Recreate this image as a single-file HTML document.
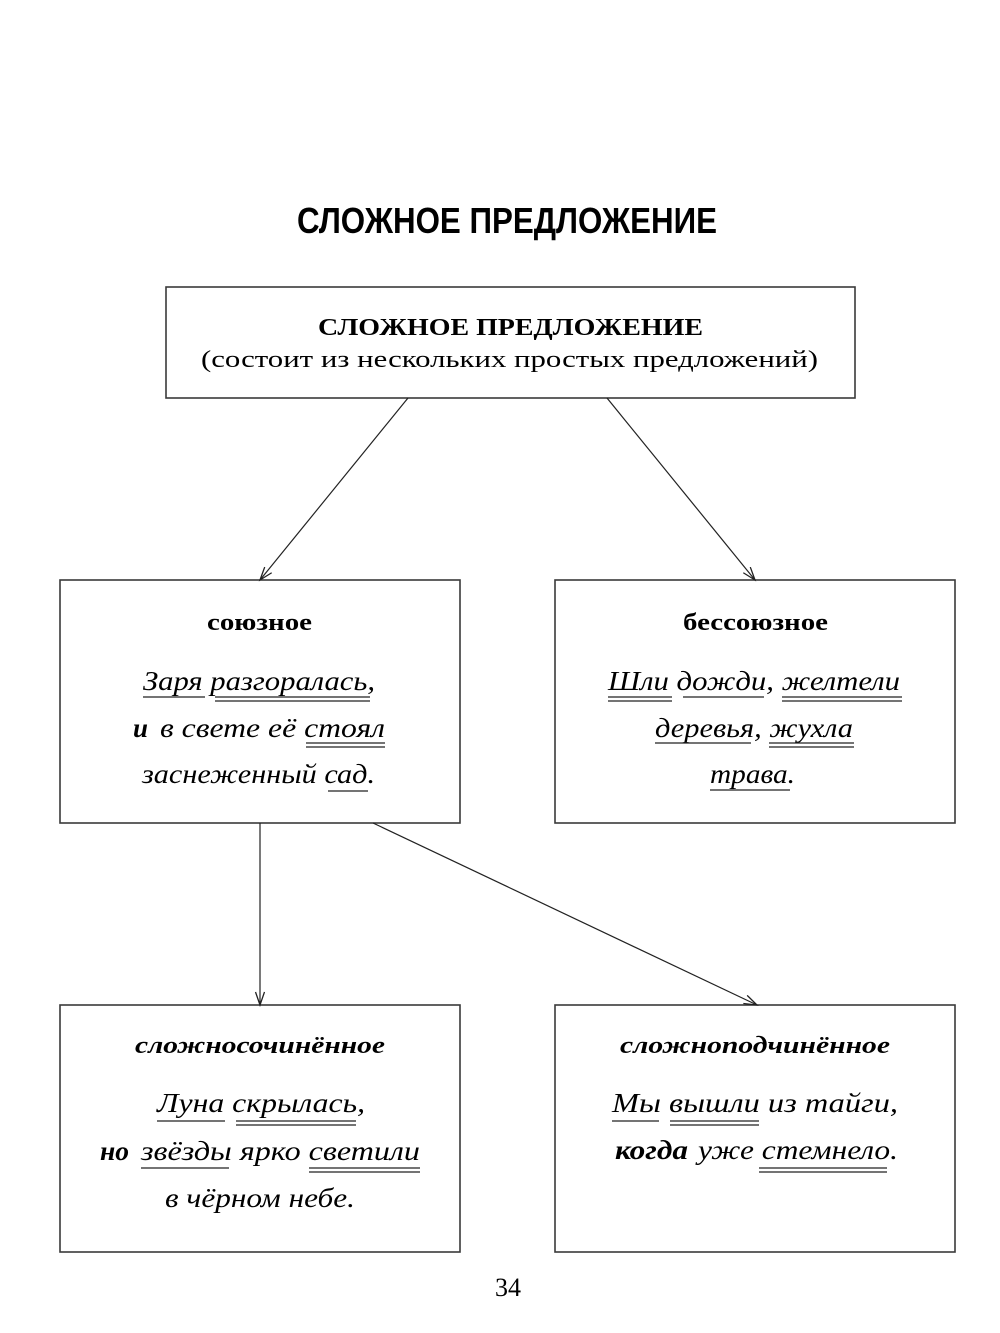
<!DOCTYPE html>
<html>
<head>
<meta charset="utf-8">
<style>
html,body{margin:0;padding:0;background:#fff;}
svg{display:block;}
.t{font-family:"Liberation Sans","DejaVu Sans",sans-serif;font-weight:bold;}
.s{font-family:"Liberation Serif","DejaVu Serif",serif;fill:#000;}
.sb{font-family:"Liberation Serif","DejaVu Serif",serif;fill:#000;font-weight:bold;}
.i{font-family:"Liberation Serif","DejaVu Serif",serif;font-style:italic;fill:#000;}
.bi{font-family:"Liberation Serif","DejaVu Serif",serif;font-style:italic;font-weight:bold;fill:#000;}
.b{font-family:"Liberation Serif","DejaVu Serif",serif;font-weight:bold;fill:#000;}
.u{stroke:#222;stroke-width:1.3;}
</style>
</head>
<body>
<svg width="1000" height="1333" viewBox="0 0 1000 1333" xmlns="http://www.w3.org/2000/svg">
<defs>
<marker id="ah" markerUnits="userSpaceOnUse" markerWidth="16" markerHeight="12" refX="14" refY="5" orient="auto">
<path d="M1,0.5 L14,5 L1,9.5" fill="none" stroke="#222" stroke-width="1.3"/>
</marker>
</defs>
<rect width="1000" height="1333" fill="#fff"/>

<!-- Title -->
<text class="t" x="297" y="233" font-size="36" textLength="420" lengthAdjust="spacingAndGlyphs" fill="#000">СЛОЖНОЕ ПРЕДЛОЖЕНИЕ</text>

<!-- Boxes -->
<g fill="none" stroke="#3a3a3a" stroke-width="1.6">
<rect x="166" y="287" width="689" height="111"/>
<rect x="60" y="580" width="400" height="243"/>
<rect x="555" y="580" width="400" height="243"/>
<rect x="60" y="1005" width="400" height="247"/>
<rect x="555" y="1005" width="400" height="247"/>
</g>

<!-- Connectors -->
<g stroke="#222" stroke-width="1.2" fill="none">
<line x1="408" y1="398" x2="260" y2="580" marker-end="url(#ah)"/>
<line x1="607" y1="398" x2="755" y2="580" marker-end="url(#ah)"/>
<line x1="260" y1="823" x2="260" y2="1005" marker-end="url(#ah)"/>
<line x1="373" y1="823" x2="757" y2="1005" marker-end="url(#ah)"/>
</g>

<!-- Top box text -->
<text class="sb" x="318" y="335" font-size="24" textLength="385" lengthAdjust="spacingAndGlyphs">СЛОЖНОЕ ПРЕДЛОЖЕНИЕ</text>
<text class="s" x="201" y="367" font-size="24" textLength="617" lengthAdjust="spacingAndGlyphs">(состоит из нескольких простых предложений)</text>

<!-- союзное -->
<text class="b" x="207" y="630" font-size="24" textLength="105" lengthAdjust="spacingAndGlyphs">союзное</text>
<text class="i" x="143" y="690" font-size="27" textLength="232" lengthAdjust="spacingAndGlyphs">Заря разгоралась,</text>
<text class="bi" x="133" y="737" font-size="27" textLength="15" lengthAdjust="spacingAndGlyphs">и</text>
<text class="i" x="160" y="737" font-size="27" textLength="225" lengthAdjust="spacingAndGlyphs">в свете её стоял</text>
<text class="i" x="142" y="783" font-size="27" textLength="233" lengthAdjust="spacingAndGlyphs">заснеженный сад.</text>
<line class="u" x1="143" y1="697" x2="205" y2="697"/>
<line class="u" x1="215" y1="697" x2="370" y2="697"/>
<line class="u" x1="215" y1="701" x2="370" y2="701"/>
<line class="u" x1="306" y1="743" x2="385" y2="743"/>
<line class="u" x1="306" y1="747" x2="385" y2="747"/>
<line class="u" x1="328" y1="791" x2="368" y2="791"/>

<!-- бессоюзное -->
<text class="b" x="683" y="630" font-size="24" textLength="145" lengthAdjust="spacingAndGlyphs">бессоюзное</text>
<text class="i" x="608" y="690" font-size="27" textLength="292" lengthAdjust="spacingAndGlyphs">Шли дожди, желтели</text>
<text class="i" x="655" y="737" font-size="27" textLength="198" lengthAdjust="spacingAndGlyphs">деревья, жухла</text>
<text class="i" x="710" y="783" font-size="27" textLength="85" lengthAdjust="spacingAndGlyphs">трава.</text>
<line class="u" x1="608" y1="697" x2="672" y2="697"/>
<line class="u" x1="608" y1="701" x2="672" y2="701"/>
<line class="u" x1="683" y1="697" x2="764" y2="697"/>
<line class="u" x1="782" y1="697" x2="902" y2="697"/>
<line class="u" x1="782" y1="701" x2="902" y2="701"/>
<line class="u" x1="655" y1="743" x2="751" y2="743"/>
<line class="u" x1="769" y1="743" x2="854" y2="743"/>
<line class="u" x1="769" y1="747" x2="854" y2="747"/>
<line class="u" x1="710" y1="790" x2="790" y2="790"/>

<!-- сложносочинённое -->
<text class="bi" x="135" y="1053" font-size="24" textLength="250" lengthAdjust="spacingAndGlyphs">сложносочинённое</text>
<text class="i" x="157" y="1112" font-size="27" textLength="208" lengthAdjust="spacingAndGlyphs">Луна скрылась,</text>
<text class="bi" x="100" y="1160" font-size="27" textLength="29" lengthAdjust="spacingAndGlyphs">но</text>
<text class="i" x="141" y="1160" font-size="27" textLength="279" lengthAdjust="spacingAndGlyphs">звёзды ярко светили</text>
<text class="i" x="165" y="1207" font-size="27" textLength="190" lengthAdjust="spacingAndGlyphs">в чёрном небе.</text>
<line class="u" x1="157" y1="1121" x2="225" y2="1121"/>
<line class="u" x1="236" y1="1121" x2="356" y2="1121"/>
<line class="u" x1="236" y1="1125" x2="356" y2="1125"/>
<line class="u" x1="141" y1="1168" x2="229" y2="1168"/>
<line class="u" x1="309" y1="1168" x2="420" y2="1168"/>
<line class="u" x1="309" y1="1172" x2="420" y2="1172"/>

<!-- сложноподчинённое -->
<text class="bi" x="620" y="1053" font-size="24" textLength="270" lengthAdjust="spacingAndGlyphs">сложноподчинённое</text>
<text class="i" x="612" y="1112" font-size="27" textLength="286" lengthAdjust="spacingAndGlyphs">Мы вышли из тайги,</text>
<text class="bi" x="615" y="1159" font-size="27" textLength="73" lengthAdjust="spacingAndGlyphs">когда</text>
<text class="i" x="698" y="1159" font-size="27" textLength="200" lengthAdjust="spacingAndGlyphs">уже стемнело.</text>
<line class="u" x1="612" y1="1121" x2="659" y2="1121"/>
<line class="u" x1="670" y1="1121" x2="759" y2="1121"/>
<line class="u" x1="670" y1="1125" x2="759" y2="1125"/>
<line class="u" x1="759" y1="1168" x2="887" y2="1168"/>
<line class="u" x1="759" y1="1172" x2="887" y2="1172"/>

<!-- Page number -->
<text class="s" x="495" y="1296" font-size="26" textLength="26" lengthAdjust="spacingAndGlyphs">34</text>
</svg>
</body>
</html>
